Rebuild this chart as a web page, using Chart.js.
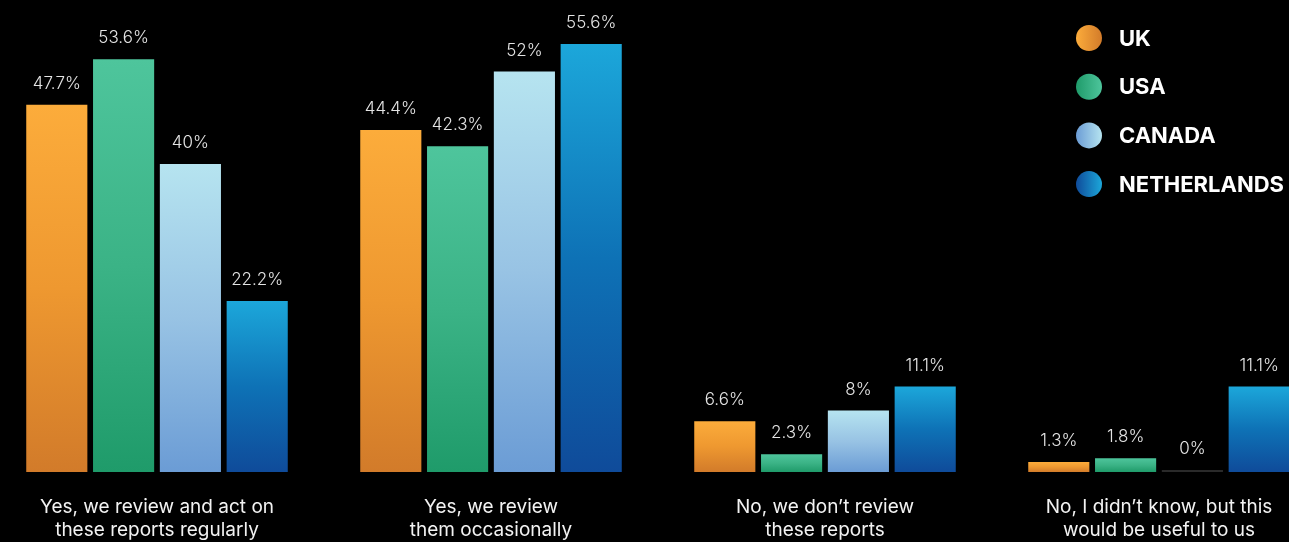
<!DOCTYPE html>
<html>
<head>
<meta charset="utf-8">
<script src="https://cdn.jsdelivr.net/npm/chart.js@4.4.1/dist/chart.umd.min.js"></script>
<style>
  html, body { margin: 0; padding: 0; background: #000; overflow: hidden; width: 1289px; height: 542px; }
  #wrap { position: absolute; left: -10px; top: 0; width: 1336px; height: 542px; }
</style>
</head>
<body>
<div id="wrap"><canvas id="c"></canvas></div>
<script>
// Survey answers (x categories), each split over two lines
const categories = [
  ["Yes, we review and act on", "these reports regularly"],
  ["Yes, we review", "them occasionally"],
  ["No, we don\u2019t review", "these reports"],
  ["No, I didn\u2019t know, but this", "would be useful to us"]
];
const countries = ["UK", "USA", "CANADA", "NETHERLANDS"];

// Share of respondents (%) per answer
const ukValues          = [47.7, 44.4, 6.6, 1.3];
const usaValues         = [53.6, 42.3, 2.3, 1.8];
const canadaValues      = [40, 52, 8, 0];
const netherlandsValues = [22.2, 55.6, 11.1, 11.1];

// Gradient stops, top of bar -> bottom of bar
const ukStops          = ["#FCAC3B", "#EE9830", "#D27B2A"];
const usaStops         = ["#4EC59C", "#3BB386", "#1F9B6A"];
const canadaStops      = ["#B6E4F0", "#98C3E4", "#6B9CD5"];
const netherlandsStops = ["#1CA7DA", "#0E72B6", "#0F4B9A"];

const FONT = "Inter, 'Open Sans', sans-serif";

function barFill(stops) {
  return (ctx) => {
    const chart = ctx.chart;
    const y = chart.scales && chart.scales.y;
    if (ctx.type !== 'data' || !chart.chartArea || !y) return stops[0];
    if (ctx.raw === 0) return '#2a2a2a';
    const top = y.getPixelForValue(ctx.raw);
    const bottom = y.getPixelForValue(0);
    const g = chart.ctx.createLinearGradient(0, top, 0, bottom);
    stops.forEach((c, i) => g.addColorStop(i / (stops.length - 1), c));
    return g;
  };
}

function makeDataset(label, values, stops) {
  return {
    label,
    data: values,
    stops,
    backgroundColor: barFill(stops),
    borderWidth: 0,
    minBarLength: 2,
    barPercentage: 0.915,
    categoryPercentage: 0.8
  };
}

// Percent labels above each bar
const valueLabels = {
  id: 'valueLabels',
  afterDatasetsDraw(chart) {
    const ctx = chart.ctx;
    ctx.save();
    ctx.font = `300 17px ${FONT}`;
    ctx.fillStyle = '#e4e4e4';
    ctx.textAlign = 'center';
    ctx.textBaseline = 'middle';
    chart.data.datasets.forEach((ds, di) => {
      chart.getDatasetMeta(di).data.forEach((bar, i) => {
        ctx.fillText(ds.data[i] + '%', bar.x, bar.y - 21);
      });
    });
    ctx.restore();
  }
};

// Country key with round gradient swatches, top right
const countryKey = {
  id: 'countryKey',
  afterDraw(chart) {
    const ctx = chart.ctx;
    const cx = 1099, firstY = 38, step = 48.7, r = 13;
    ctx.save();
    ctx.font = `700 22px ${FONT}`;
    ctx.textAlign = 'left';
    ctx.textBaseline = 'middle';
    chart.data.datasets.forEach((ds, i) => {
      const y = firstY + i * step;
      const g = ctx.createLinearGradient(cx - r, 0, cx + r, 0);
      const s = ds.stops;
      const horiz = (i === 0) ? [s[0], s[2]] : [s[2], s[0]];
      g.addColorStop(0, horiz[0]);
      g.addColorStop(1, horiz[1]);
      ctx.fillStyle = g;
      ctx.beginPath();
      ctx.arc(cx, y, r, 0, Math.PI * 2);
      ctx.fill();
      ctx.fillStyle = '#ffffff';
      ctx.fillText(ds.label, cx + 30, y + 1);
    });
    ctx.restore();
  }
};

new Chart(document.getElementById('c'), {
  type: 'bar',
  data: {
    labels: categories,
    datasets: [
      makeDataset(countries[0], ukValues, ukStops),
      makeDataset(countries[1], usaValues, usaStops),
      makeDataset(countries[2], canadaValues, canadaStops),
      makeDataset(countries[3], netherlandsValues, netherlandsStops)
    ]
  },
  options: {
    responsive: true,
    maintainAspectRatio: false,
    devicePixelRatio: 1,
    animation: false,
    layout: { padding: { top: 10, left: 0, right: 0, bottom: 0 } },
    plugins: { legend: { display: false }, tooltip: { enabled: false } },
    scales: {
      x: {
        grid: { display: false, drawTicks: false },
        border: { display: false },
        ticks: {
          color: '#f2f2f2',
          font: { family: FONT, size: 19, weight: 400, lineHeight: 1.22 },
          padding: 24,
          maxRotation: 0,
          autoSkip: false
        },
        afterFit(scale) { scale.height = 70; }
      },
      y: {
        display: false,
        min: 0,
        max: 60
      }
    }
  },
  plugins: [valueLabels, countryKey]
});
</script>
</body>
</html>
